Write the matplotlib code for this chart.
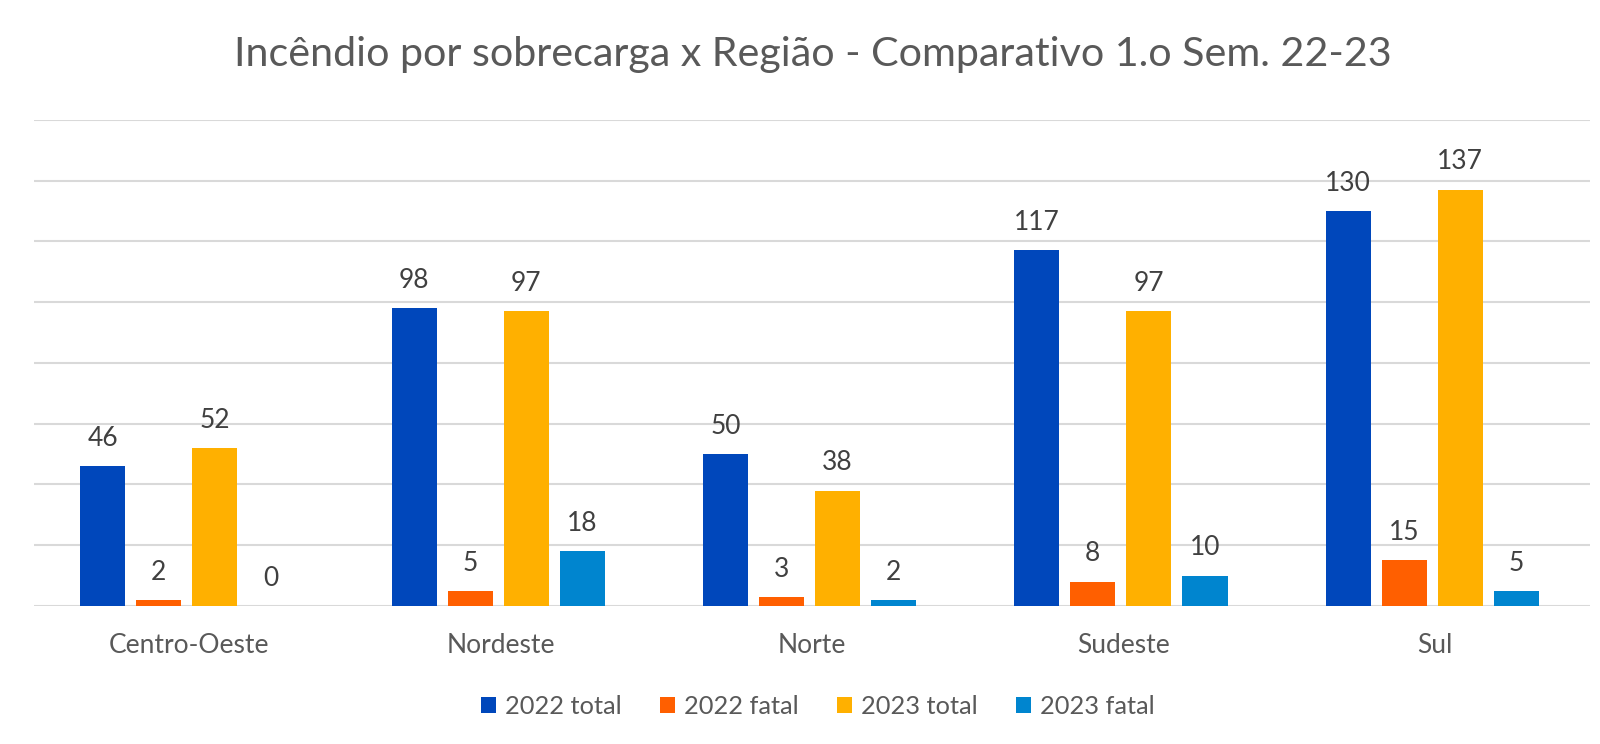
import matplotlib.pyplot as plt
import numpy as np

plt.rcParams['font.family'] = ['Lato', 'DejaVu Sans']

regioes = ["Centro-Oeste", "Nordeste", "Norte", "Sudeste", "Sul"]
series = ["2022 total", "2022 fatal", "2023 total", "2023 fatal"]
total_2022 = [46, 98, 50, 117, 130]
fatal_2022 = [2, 5, 3, 8, 15]
total_2023 = [52, 97, 38, 97, 137]
fatal_2023 = [0, 18, 2, 10, 5]
cores = ["#0047BB", "#FF5F00", "#FFB000", "#0085CF"]

valores = [total_2022, fatal_2022, total_2023, fatal_2023]

fig = plt.figure(figsize=(16, 7.44), dpi=100)
ax = fig.add_axes([0.021, 0.1855, 0.973, 0.6535])

x = np.arange(len(regioes))
largura = 0.145
passo = 0.18
for i, (nome, vals, cor) in enumerate(zip(series, valores, cores)):
    pos = x + (i - 1.5) * passo - 0.008
    barras = ax.bar(pos, vals, largura, color=cor, label=nome, zorder=3)
    ax.bar_label(barras, labels=[str(v) for v in vals], padding=11,
                 fontsize=19, color="#404040")

ax.set_xlim(-0.5, len(regioes) - 0.5)
ax.set_ylim(0, 160)
ax.set_yticks(np.arange(0, 161, 20))
ax.yaxis.grid(True, color="#D9D9D9", linewidth=1.5, zorder=0)
ax.tick_params(axis="y", left=False, labelleft=False)
ax.tick_params(axis="x", bottom=False, labelsize=19, labelcolor="#595959", pad=16)
ax.set_xticks(x)
ax.set_xticklabels(regioes)
for lado in ["top", "right", "left", "bottom"]:
    ax.spines[lado].set_visible(False)

fig.suptitle("Incêndio por sobrecarga x Região - Comparativo 1.o Sem. 22-23",
             fontsize=29.7, color="#595959", x=0.508, y=0.952)

fig.legend(loc="center", bbox_to_anchor=(0.511, 0.05), ncol=4, frameon=False,
           fontsize=18.3, labelcolor="#595959", handlelength=0.6, handleheight=0.6,
           handletextpad=0.35, columnspacing=1.5)

fig.savefig("out.png", dpi=100, facecolor="white")
